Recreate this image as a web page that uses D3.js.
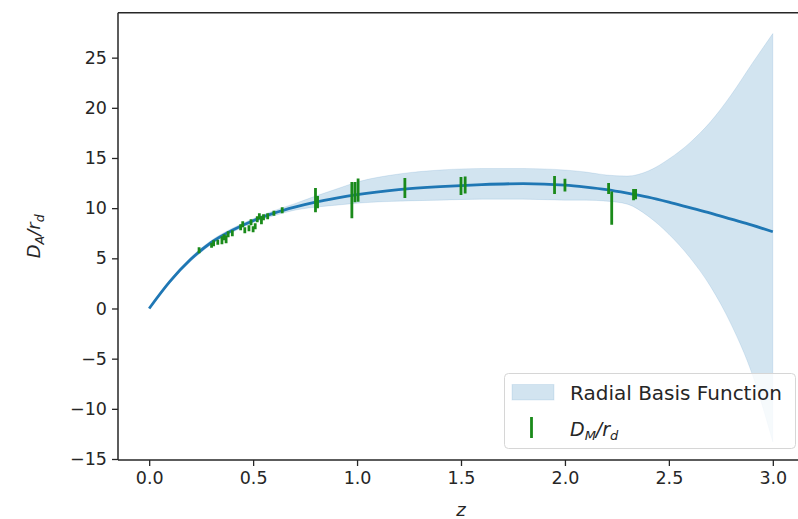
<!DOCTYPE html>
<html>
<head>
<meta charset="utf-8">
<script src="https://cdn.jsdelivr.net/npm/d3@7"></script>
<style>
  html, body { margin: 0; padding: 0; background: #fff; overflow: hidden; }
  svg { display: block; overflow: hidden; }
  .tick text { font-family: "DejaVu Sans", sans-serif; fill: #262626; }
</style>
</head>
<body>
<svg id="chart" width="798" height="519"></svg>
<script>
// Reconstructed angular-diameter distance, D_A / r_d, versus redshift z
const zGrid  = [0, 0.1, 0.2, 0.3, 0.4, 0.5, 0.6, 0.7, 0.8, 0.9, 1.0, 1.2, 1.4, 1.6, 1.8, 2.0, 2.1, 2.2, 2.3, 2.4, 2.5, 2.6, 2.7, 2.8, 2.9, 3.0];
const meanDA = [0, 2.7, 4.9, 6.6, 7.8, 8.75, 9.5, 10.1, 10.6, 11.0, 11.35, 11.85, 12.15, 12.35, 12.45, 12.3, 12.1, 11.85, 11.5, 11.1, 10.6, 10.05, 9.5, 8.9, 8.3, 7.65];
const upperDA = [0, 2.85, 5.1, 6.8, 8.0, 8.95, 9.75, 10.45, 11.2, 11.9, 12.6, 13.4, 13.8, 13.95, 13.95, 13.8, 13.6, 13.3, 13.2, 13.7, 14.9, 16.5, 18.6, 21.3, 24.4, 27.4];
const lowerDA = [0, 2.55, 4.7, 6.4, 7.6, 8.55, 9.25, 9.8, 10.1, 10.3, 10.5, 10.7, 10.8, 10.9, 10.9, 10.8, 10.8, 10.7, 10.4, 9.2, 7.4, 5.1, 2.2, -1.6, -6.5, -13.3];

// Measurements: redshift, value, 1-sigma error
const zData = [0.24, 0.30, 0.31, 0.33, 0.35, 0.36, 0.37, 0.38, 0.40, 0.44, 0.45, 0.46, 0.48, 0.49, 0.50, 0.51, 0.52, 0.53, 0.54, 0.55, 0.57, 0.60, 0.64,
               0.80, 0.81, 0.975, 0.99, 1.005, 1.23, 1.50, 1.52, 1.95, 2.00, 2.21, 2.225, 2.33, 2.34];
const vData = [5.8, 6.3, 6.5, 6.6, 6.8, 7.1, 6.9, 7.4, 7.5, 8.1, 8.4, 7.8, 8.0, 8.6, 7.9, 8.2, 8.9, 9.2, 8.8, 9.1, 9.2, 9.5, 9.8,
               10.8, 10.6, 10.8, 11.6, 11.8, 12.0, 12.2, 12.3, 12.3, 12.3, 11.95, 10.0, 11.35, 11.4];
const eData = [0.3, 0.25, 0.3, 0.25, 0.4, 0.3, 0.4, 0.3, 0.3, 0.3, 0.3, 0.3, 0.3, 0.3, 0.3, 0.3, 0.3, 0.3, 0.4, 0.3, 0.3, 0.25, 0.3,
               1.2, 0.6, 1.8, 1.0, 1.15, 1.0, 0.9, 0.85, 0.9, 0.63, 0.55, 1.65, 0.55, 0.5];

const xTicks = [0, 0.5, 1.0, 1.5, 2.0, 2.5, 3.0];
const yTicks = [-15, -10, -5, 0, 5, 10, 15, 20, 25];

const bandLabel = "Radial Basis Function";

const lineColor = "#1f77b4";
const pointColor = "#1a8a1a";

const svg = d3.select("#chart");
const box = { left: 118, right: 804, top: 12.7, bottom: 460 };

const x = d3.scaleLinear().domain([-0.15, 3.15]).range([box.left, box.right]);
const y = d3.scaleLinear().domain([-15.1, 29.48]).range([box.bottom, box.top]);

svg.append("clipPath").attr("id", "plotclip")
  .append("rect").attr("x", box.left).attr("y", box.top)
  .attr("width", box.right - box.left).attr("height", box.bottom - box.top);
const plot = svg.append("g").attr("clip-path", "url(#plotclip)");

const grid = zGrid.map((z, i) => ({ z, m: meanDA[i], hi: upperDA[i], lo: lowerDA[i] }));

// Confidence band
plot.append("path")
  .datum(grid)
  .attr("d", d3.area()
    .x(d => x(d.z))
    .y0(d => y(d.lo))
    .y1(d => y(d.hi))
    .curve(d3.curveMonotoneX))
  .attr("fill", lineColor)
  .attr("fill-opacity", 0.2)
  .attr("stroke", lineColor)
  .attr("stroke-opacity", 0.12)
  .attr("stroke-width", 1);

// Mean reconstruction
plot.append("path")
  .datum(grid)
  .attr("d", d3.line().x(d => x(d.z)).y(d => y(d.m)).curve(d3.curveMonotoneX))
  .attr("fill", "none")
  .attr("stroke", lineColor)
  .attr("stroke-width", 2.8);

// Error bars
const pts = zData.map((z, i) => ({ z, v: vData[i], e: eData[i] }));
plot.append("g").selectAll("line")
  .data(pts)
  .join("line")
  .attr("x1", d => x(d.z)).attr("x2", d => x(d.z))
  .attr("y1", d => y(d.v - d.e)).attr("y2", d => y(d.v + d.e))
  .attr("stroke", pointColor)
  .attr("stroke-width", 2.8);

// Axes
const fmtY = d3.format("d");
const yAxis = svg.append("g")
  .attr("transform", `translate(${box.left},0)`)
  .call(d3.axisLeft(y).tickValues(yTicks).tickSize(6).tickPadding(5)
    .tickFormat(d => d < 0 ? "\u2212" + fmtY(-d) : fmtY(d)));
const xAxis = svg.append("g")
  .attr("transform", `translate(0,${box.bottom})`)
  .call(d3.axisBottom(x).tickValues(xTicks).tickSize(6).tickPadding(6)
    .tickFormat(d3.format(".1f")));

[xAxis, yAxis].forEach(g => {
  g.select(".domain").remove();
  g.selectAll(".tick line").attr("stroke", "#262626").attr("stroke-width", 1.3);
  g.selectAll(".tick text").style("font-size", "17.5px");
});

// Spines (the right-hand one falls just beyond the canvas)
const spine = svg.append("g").attr("stroke", "#262626").attr("stroke-width", 1.5).attr("fill", "none");
spine.append("line").attr("x1", box.left).attr("x2", box.left).attr("y1", box.top).attr("y2", box.bottom);
spine.append("line").attr("x1", box.left).attr("x2", box.right).attr("y1", box.bottom).attr("y2", box.bottom);
spine.append("line").attr("x1", box.left).attr("x2", box.right).attr("y1", box.top).attr("y2", box.top);

// Axis labels
const ylab = svg.append("text")
  .attr("transform", `translate(40,${(box.top + box.bottom) / 2}) rotate(-90)`)
  .attr("text-anchor", "middle")
  .style("font-family", "DejaVu Sans, sans-serif")
  .style("font-style", "italic")
  .style("font-size", "18px")
  .attr("fill", "#262626");
ylab.append("tspan").text("D");
ylab.append("tspan").text("A").style("font-size", "12.5px").attr("dy", 4);
ylab.append("tspan").text("/r").attr("dy", -4);
ylab.append("tspan").text("d").style("font-size", "12.5px").attr("dy", 4);

svg.append("text")
  .attr("x", (box.left + box.right) / 2).attr("y", 516)
  .attr("text-anchor", "middle")
  .style("font-family", "DejaVu Sans, sans-serif")
  .style("font-style", "italic")
  .style("font-size", "18px")
  .attr("fill", "#262626")
  .text("z");

// Legend
const lg = svg.append("g");
lg.append("rect")
  .attr("x", 504.5).attr("y", 373.5).attr("width", 291).attr("height", 75).attr("rx", 4)
  .attr("fill", "#fff").attr("fill-opacity", 0.8)
  .attr("stroke", "#d6d6d6").attr("stroke-width", 1);
lg.append("rect")
  .attr("x", 512).attr("y", 384.5).attr("width", 42).attr("height", 15.5)
  .attr("fill", lineColor).attr("fill-opacity", 0.2)
  .attr("stroke", lineColor).attr("stroke-opacity", 0.12);
lg.append("text")
  .attr("x", 570).attr("y", 400)
  .style("font-family", "DejaVu Sans, sans-serif")
  .style("font-size", "20px")
  .attr("fill", "#262626")
  .text(bandLabel);
lg.append("line")
  .attr("x1", 531.5).attr("x2", 531.5).attr("y1", 417).attr("y2", 438)
  .attr("stroke", pointColor).attr("stroke-width", 2.8);
const lt = lg.append("text")
  .attr("x", 570).attr("y", 436)
  .style("font-family", "DejaVu Sans, sans-serif")
  .style("font-style", "italic")
  .style("font-size", "19px")
  .attr("fill", "#262626");
lt.append("tspan").text("D");
lt.append("tspan").text("M").style("font-size", "13px").attr("dy", 4);
lt.append("tspan").text("/r").attr("dy", -4);
lt.append("tspan").text("d").style("font-size", "13px").attr("dy", 4);
</script>
</body>
</html>
